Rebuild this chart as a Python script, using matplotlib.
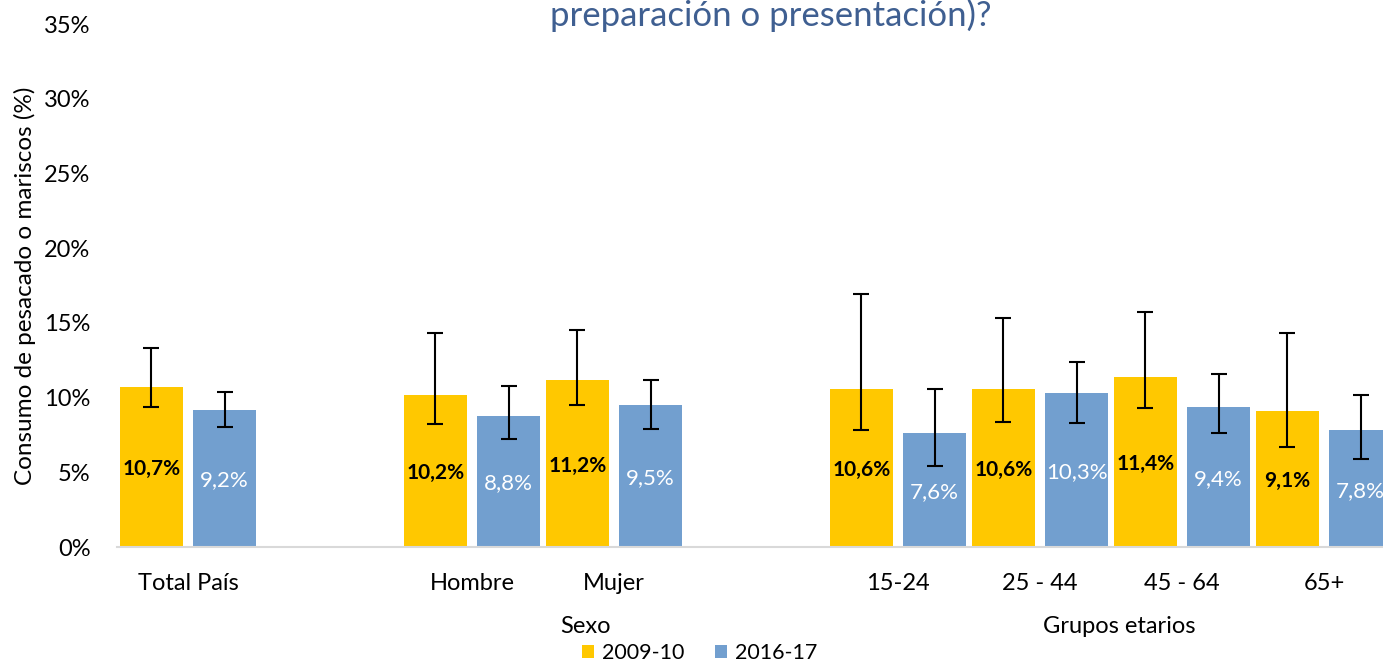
import matplotlib
matplotlib.use("Agg")
import matplotlib.pyplot as plt
import numpy as np

# data
categories = ["Total País", "", "Hombre", "Mujer", "", "15-24", "25 - 44", "45 - 64", "65+"]
val_2009 = [10.7, None, 10.2, 11.2, None, 10.6, 10.6, 11.4, 9.1]
val_2016 = [9.2, None, 8.8, 9.5, None, 7.6, 10.3, 9.4, 7.8]
low_2009 = [9.4, None, 8.2, 9.5, None, 7.8, 8.4, 9.3, 6.7]
high_2009 = [13.3, None, 14.3, 14.5, None, 16.9, 15.3, 15.7, 14.3]
low_2016 = [8.0, None, 7.2, 7.9, None, 5.4, 8.3, 7.6, 5.9]
high_2016 = [10.4, None, 10.8, 11.2, None, 10.6, 12.4, 11.6, 10.2]
series_names = ["2009-10", "2016-17"]
group_labels = [("Sexo", 2.8), ("Grupos etarios", 6.56)]

yellow = "#FFC800"
blue = "#729FCF"
plt.rcParams['font.family'] = ['Lato', 'DejaVu Sans']

fig = plt.figure(figsize=(13.83, 6.65), dpi=100)
ax = fig.add_axes([0.0846, 0.1774, 0.9241, 0.7865])

x = np.arange(len(categories))
idx = [i for i in range(len(categories)) if val_2009[i] is not None]
xi = x[idx]
v1 = np.array([val_2009[i] for i in idx])
v2 = np.array([val_2016[i] for i in idx])
e1 = np.array([[v1[k] - low_2009[i], high_2009[i] - v1[k]] for k, i in enumerate(idx)]).T
e2 = np.array([[v2[k] - low_2016[i], high_2016[i] - v2[k]] for k, i in enumerate(idx)]).T

w = 0.44
off = 0.258
b1 = ax.bar(xi - off, v1, w, color=yellow, label=series_names[0], zorder=2)
b2 = ax.bar(xi + off, v2, w, color=blue, label=series_names[1], zorder=2)
ax.errorbar(xi - off, v1, yerr=e1, fmt="none", ecolor="black", elinewidth=1.5,
            capsize=6, capthick=1.5, zorder=3)
ax.errorbar(xi + off, v2, yerr=e2, fmt="none", ecolor="black", elinewidth=1.5,
            capsize=6, capthick=1.5, zorder=3)

for xx, v in zip(xi - off, v1):
    ax.text(xx, v / 2 - 0.15, f"{v:.1f}%".replace(".", ","), ha="center", va="center",
            fontsize=15, fontweight="bold", color="black", zorder=4)
for xx, v in zip(xi + off, v2):
    ax.text(xx, v / 2 - 0.15, f"{v:.1f}%".replace(".", ","), ha="center", va="center",
            fontsize=16, color="white", zorder=4)

ax.set_xlim(-0.5, 8.5)
ax.set_ylim(0, 35)
ax.set_yticks(np.arange(0, 36, 5))
ax.set_yticklabels([f"{t}%" for t in range(0, 36, 5)])
ax.set_xticks(x)
ax.set_xticklabels(categories)
ax.tick_params(axis="both", length=0, labelsize=17, colors="black")
ax.tick_params(axis="y", pad=19)
ax.tick_params(axis="x", pad=19)
for s in ["top", "right", "left"]:
    ax.spines[s].set_visible(False)
ax.spines["bottom"].set_color("#D9D9D9")
ax.spines["bottom"].set_linewidth(1.5)
ax.set_ylabel("Consumo de pesacado o mariscos (%)", fontsize=17.5, labelpad=6)

for txt, pos in group_labels:
    ax.text(pos, -5.3, txt, ha="center", va="center", fontsize=17)

fig.text(0.557, 0.977, "preparación o presentación)?", ha="center", va="center",
         fontsize=25, color="#3F5F91")

ax.legend(loc="center", bbox_to_anchor=(0.456, -0.203),
          ncol=2, frameon=False, fontsize=15.5, handlelength=0.55, handleheight=0.55,
          columnspacing=1.4, handletextpad=0.4)

fig.savefig("out.png", dpi=100)
